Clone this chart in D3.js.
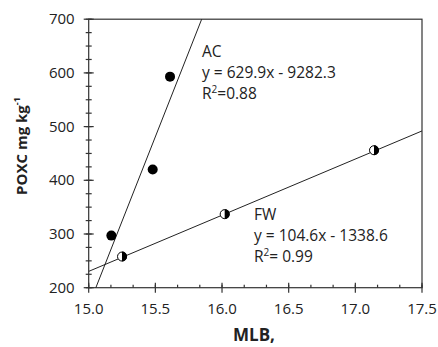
<!DOCTYPE html>
<html><head><meta charset="utf-8">
<script src="https://cdn.jsdelivr.net/npm/d3@7"></script>
<style>body{margin:0;background:#fff}svg{display:block}text{font-family:"Open Sans",sans-serif;fill:#222}</style>
</head><body><svg id="c" width="438" height="347"></svg>
<script>
const acX = [15.17, 15.48, 15.61];
const acY = [297, 420, 593];
const fwX = [15.25, 16.02, 17.14];
const fwY = [258, 337, 456];
const acFit = {slope: 629.9, intercept: -9282.3};
const fwFit = {slope: 104.6, intercept: -1338.6};
const xTicks = [15.0, 15.5, 16.0, 16.5, 17.0, 17.5];
const yTicks = [200, 300, 400, 500, 600, 700];
const acLabel = ["AC", "y = 629.9x - 9282.3", "R", "=0.88"];
const fwLabel = ["FW", "y = 104.6x - 1338.6", "R", "= 0.99"];

const svg = d3.select("#c");
const L = 88.7, R = 422, T = 19.2, B = 287.7;
const x = d3.scaleLinear().domain([15, 17.5]).range([L, R]);
const y = d3.scaleLinear().domain([200, 700]).range([B, T]);

svg.append("rect").attr("x", L).attr("y", T).attr("width", R - L).attr("height", B - T)
  .attr("fill", "none").attr("stroke", "#333").attr("stroke-width", 1.2);

svg.append("clipPath").attr("id", "clip").append("rect")
  .attr("x", L).attr("y", T).attr("width", R - L).attr("height", B - T);

const xMinor = d3.range(0, 16).map(i => 15 + i / 6).filter(v => v <= 17.5001);
svg.append("g").selectAll("line").data(xMinor).join("line")
  .attr("x1", d => x(d)).attr("x2", d => x(d))
  .attr("y1", B - 3).attr("y2", B)
  .attr("stroke", "#333").attr("stroke-width", 1.2);
svg.append("g").selectAll("line").data(xTicks).join("line")
  .attr("x1", d => x(d)).attr("x2", d => x(d))
  .attr("y1", B - 5).attr("y2", B + 5)
  .attr("stroke", "#333").attr("stroke-width", 1.2);
svg.append("g").selectAll("text").data(xTicks).join("text")
  .attr("x", d => x(d)).attr("y", B + 26).attr("text-anchor", "middle")
  .attr("font-size", 15).text(d => d.toFixed(1));

const yMinor = d3.range(200, 701, 25);
svg.append("g").selectAll("line").data(yMinor).join("line")
  .attr("x1", L - 3).attr("x2", L + 3)
  .attr("y1", d => y(d)).attr("y2", d => y(d))
  .attr("stroke", "#333").attr("stroke-width", 1.2);
svg.append("g").selectAll("line").data(yTicks).join("line")
  .attr("x1", L - 5).attr("x2", L + 5)
  .attr("y1", d => y(d)).attr("y2", d => y(d))
  .attr("stroke", "#333").attr("stroke-width", 1.2);
svg.append("g").selectAll("text").data(yTicks).join("text")
  .attr("x", L - 14).attr("y", d => y(d) + 5).attr("text-anchor", "end")
  .attr("font-size", 15).text(d => d);

const g = svg.append("g").attr("clip-path", "url(#clip)");
[acFit, fwFit].forEach(f => {
  g.append("line")
    .attr("x1", x(15)).attr("y1", y(f.slope * 15 + f.intercept))
    .attr("x2", x(17.5)).attr("y2", y(f.slope * 17.5 + f.intercept))
    .attr("stroke", "#222").attr("stroke-width", 1);
});

svg.append("g").selectAll("circle").data(acX.map((v, i) => [v, acY[i]])).join("circle")
  .attr("cx", d => x(d[0])).attr("cy", d => y(d[1])).attr("r", 5).attr("fill", "#000");

const fw = svg.append("g").selectAll("g").data(fwX.map((v, i) => [v, fwY[i]])).join("g")
  .attr("transform", d => `translate(${x(d[0])},${y(d[1])})`);
fw.append("circle").attr("r", 4.5).attr("fill", "#fff").attr("stroke", "#000").attr("stroke-width", 1);
fw.append("path").attr("d", d3.arc()({innerRadius: 0, outerRadius: 5, startAngle: 0, endAngle: Math.PI})).attr("fill", "#000");

function ann(lbl, ax, ay) {
  const t = svg.append("g").attr("font-size", 15.5);
  t.append("text").attr("x", ax).attr("y", ay).text(lbl[0]);
  t.append("text").attr("x", ax).attr("y", ay + 21).text(lbl[1]);
  const r = t.append("text").attr("x", ax).attr("y", ay + 42);
  r.append("tspan").text(lbl[2]);
  r.append("tspan").attr("dy", -6).attr("font-size", 10).text("2");
  r.append("tspan").attr("dy", 6).text(lbl[3]);
}
ann(acLabel, 202, 57);
ann(fwLabel, 254, 220);

svg.append("text").attr("transform", "translate(27,146) rotate(-90)")
  .attr("text-anchor", "middle").attr("font-size", 15).attr("font-weight", "bold")
  .call(t => {
    t.append("tspan").text("POXC mg kg");
    t.append("tspan").attr("dy", -7).attr("font-size", 9).text("-1");
  });
svg.append("text").attr("x", 254).attr("y", 341).attr("text-anchor", "middle")
  .attr("font-size", 17).attr("font-weight", "bold").text("MLB,");
</script></body></html>
